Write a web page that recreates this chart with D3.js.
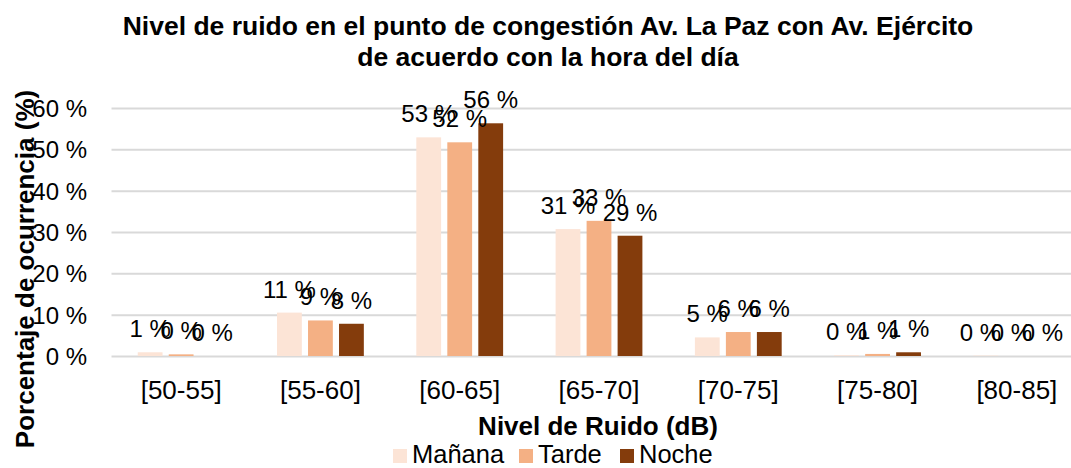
<!DOCTYPE html>
<html lang="es">
<head>
    <meta charset="UTF-8">
    <title>Nivel de ruido</title>
    <script src="https://d3js.org/d3.v7.min.js"></script>
    <style>
        body { margin: 0; background: #fff; }
        text { font-family: "Liberation Sans", Arial, sans-serif; fill: #000; }
    </style>
</head>
<body>
    <script>
        // niveles de ruido por franja horaria
        var w = 1071;
        var h = 468;

        var categories = ['[50-55]', '[55-60]', '[60-65]', '[65-70]', '[70-75]', '[75-80]', '[80-85]'];
        var series = ['Mañana', 'Tarde', 'Noche'];
        var manana = [0.9, 10.5, 52.9, 30.7, 4.5, 0.2, 0.1];
        var tarde = [0.4, 8.6, 51.7, 32.7, 5.8, 0.5, 0.0];
        var noche = [0.0, 7.8, 56.3, 29.1, 5.8, 0.9, 0.0];
        var yTicks = [0, 10, 20, 30, 40, 50, 60];
        var colors = ['#FCE4D6', '#F4B084', '#843C0C'];

        var values = [manana, tarde, noche];

        var xScale = d3.scaleBand()
                       .domain(categories)
                       .range([111.5, 1086.5]);

        var yScale = d3.scaleLinear()
                       .domain([0, 60])
                       .range([356, 108]);

        // barras dentro de cada grupo
        var groupWidth = 93;
        var inner = d3.scaleBand()
                      .domain(series)
                      .range([(xScale.bandwidth() - groupWidth) / 2, (xScale.bandwidth() + groupWidth) / 2])
                      .paddingInner(0.2)
                      .paddingOuter(0.1);

        var color = d3.scaleOrdinal().domain(series).range(colors);

        var svg = d3.select('body')
                    .append('svg')
                    .attr('width', w)
                    .attr('height', h);

        // gridlines
        svg.append('g')
           .selectAll('line')
           .data(yTicks)
           .enter()
           .append('line')
           .attr('x1', xScale.range()[0])
           .attr('x2', w)
           .attr('y1', function(d) { return yScale(d) + 0.5; })
           .attr('y2', function(d) { return yScale(d) + 0.5; })
           .attr('stroke', '#d9d9d9')
           .attr('stroke-width', 2);

        var yAxis = d3.axisLeft(yScale)
                      .tickValues(yTicks)
                      .tickSize(0)
                      .tickPadding(0)
                      .tickFormat(function(d) { return d + ' %'; });

        var gy = svg.append('g')
                    .attr('transform', 'translate(87,0)')
                    .call(yAxis);
        gy.select('.domain').remove();
        gy.selectAll('text')
          .attr('font-size', 24)
          .attr('font-family', '"Liberation Sans", Arial, sans-serif')
          .attr('fill', '#000')
          .attr('dy', '0.36em');

        var xAxis = d3.axisBottom(xScale).tickSize(0).tickPadding(0);
        var gx = svg.append('g')
                    .attr('transform', 'translate(0,' + 399 + ')')
                    .call(xAxis);
        gx.select('.domain').remove();
        gx.selectAll('text')
          .attr('font-size', 26)
          .attr('font-family', '"Liberation Sans", Arial, sans-serif')
          .attr('fill', '#000')
          .attr('dy', 0);

        var rows = [];
        categories.forEach(function(c, i) {
            series.forEach(function(s, j) {
                rows.push({ cat: c, serie: s, value: values[j][i] });
            });
        });

        svg.append('g')
           .selectAll('rect')
           .data(rows)
           .enter()
           .append('rect')
           .attr('x', function(d) { return xScale(d.cat) + inner(d.serie); })
           .attr('y', function(d) { return yScale(d.value); })
           .attr('width', inner.bandwidth())
           .attr('height', function(d) { return yScale(0) - yScale(d.value); })
           .attr('fill', function(d) { return color(d.serie); });

        // etiquetas de datos
        var labels = svg.append('g')
           .selectAll('text')
           .data(rows)
           .enter()
           .append('text')
           .attr('x', function(d) { return xScale(d.cat) + inner(d.serie) + inner.bandwidth() / 2; })
           .attr('y', function(d) { return yScale(d.value) - 15; })
           .attr('text-anchor', 'middle')
           .attr('font-size', 24)
           .text(function(d) { return Math.round(d.value) + ' %'; });

        // mantener dentro del lienzo: desplazar todo el grupo
        var shift = {};
        labels.each(function(d) {
            var len = this.getComputedTextLength();
            var over = +this.getAttribute('x') + len / 2 - (w - 8);
            if (over > 0) shift[d.cat] = Math.max(shift[d.cat] || 0, over);
        });
        labels.attr('x', function(d) {
            return +this.getAttribute('x') - (shift[d.cat] || 0);
        });

        // titulo
        svg.append('text')
           .attr('x', 548)
           .attr('y', 35)
           .attr('text-anchor', 'middle')
           .attr('font-size', 26.5)
           .attr('font-weight', 'bold')
           .text('Nivel de ruido en el punto de congestión Av. La Paz con Av. Ejército');
        svg.append('text')
           .attr('x', 548)
           .attr('y', 66)
           .attr('text-anchor', 'middle')
           .attr('font-size', 26.5)
           .attr('font-weight', 'bold')
           .text('de acuerdo con la hora del día');

        svg.append('text')
           .attr('x', 598)
           .attr('y', 435)
           .attr('text-anchor', 'middle')
           .attr('font-size', 26)
           .attr('font-weight', 'bold')
           .text('Nivel de Ruido (dB)');

        svg.append('text')
           .attr('transform', 'translate(34,269) rotate(-90)')
           .attr('text-anchor', 'middle')
           .attr('font-size', 26)
           .attr('font-weight', 'bold')
           .text('Porcentaje de ocurrencia (%)');

        // leyenda
        var legendX = [393, 519, 620];
        var legend = svg.append('g')
                        .selectAll('g')
                        .data(series)
                        .enter()
                        .append('g')
                        .attr('transform', function(d, i) { return 'translate(' + legendX[i] + ',449)'; });
        legend.append('rect')
              .attr('width', 14)
              .attr('height', 14)
              .attr('fill', function(d) { return color(d); });
        legend.append('text')
              .attr('x', 19)
              .attr('y', 14)
              .attr('font-size', 25.5)
              .text(function(d) { return d; });
    </script>
</body>
</html>
